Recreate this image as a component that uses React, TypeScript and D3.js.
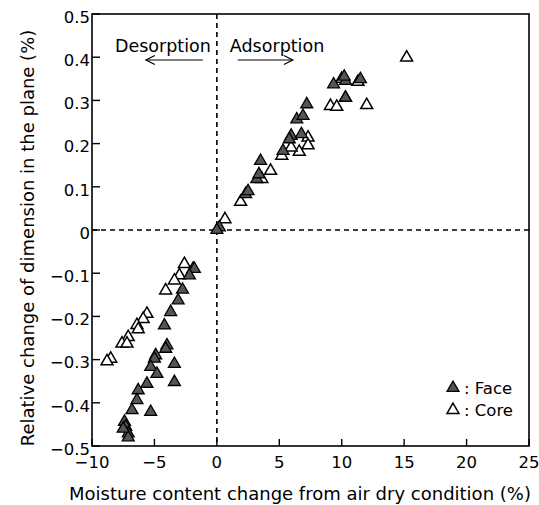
import React from "react";
import * as d3 from "d3";

const faceX = [0.2, 0.0, 2.3, 2.5, 3.2, 3.37, 3.5, 5.3, 5.95, 5.8, 6.77, 6.4, 6.9, 7.2, 9.35, 10.3, 10.2, 11.5, 10.3,
  -1.8, -2.2, -2.75, -3.1, -3.7, -4.2, -4.0, -4.1, -4.9, -5.0, -3.4, -5.3, -4.8, -5.6, -3.4, -6.3, -6.4, -6.8, -5.3, -7.4, -7.3, -7.1, -7.1, -7.5];
const faceY = [0.006, 0.0, 0.083, 0.09, 0.118, 0.129, 0.16, 0.183, 0.218, 0.21, 0.222, 0.256, 0.264, 0.291, 0.337, 0.345, 0.355, 0.349, 0.306,
  -0.09, -0.105, -0.138, -0.163, -0.19, -0.221, -0.267, -0.275, -0.29, -0.298, -0.31, -0.317, -0.333, -0.356, -0.352, -0.371, -0.394, -0.417, -0.421, -0.444, -0.455, -0.471, -0.48, -0.46];

const coreX = [15.2, 11.3, 10.3, 9.1, 9.6, 12.0, 7.3, 7.3, 6.6, 5.95, 5.2, 3.6, 4.3, 1.9, 0.65, 10.0,
  -2.6, -1.9, -3.0, -3.4, -4.1, -5.6, -5.9, -6.4, -6.3, -7.1, -7.6, -7.2, -8.5, -8.8, -7.35];
const coreY = [0.399, 0.343, 0.306, 0.287, 0.285, 0.289, 0.214, 0.196, 0.181, 0.191, 0.172, 0.118, 0.137, 0.065, 0.025, 0.35,
  -0.079, -0.09, -0.105, -0.117, -0.14, -0.194, -0.206, -0.22, -0.23, -0.248, -0.263, -0.263, -0.298, -0.304, -0.455];

const xTicks = [-10, -5, 0, 5, 10, 15, 20, 25];
const yTicks = [0.5, 0.4, 0.3, 0.2, 0.1, 0, -0.1, -0.2, -0.3, -0.4, -0.5];

const W = 539, H = 505;
const L = 92, R = 529, T = 14, B = 446;
const font = "'DejaVu Sans', Verdana, sans-serif";

export default function App() {
  const x = d3.scaleLinear().domain([-10, 25]).range([L, R]);
  const y = d3.scaleLinear().domain([-0.5, 0.5]).range([B, T]);
  const tri = d3.symbol().type(d3.symbolTriangle).size(62);
  const triPath = tri() as string;
  const fmt = (v: number) => (v === 0 ? "0" : v < 0 ? "\u2212" + Math.abs(v) : String(v));
  const face = faceX.map((v, i) => [v, faceY[i]]);
  const core = coreX.map((v, i) => [v, coreY[i]]);
  return (
    <svg width={W} height={H} style={{ position: "absolute", left: 0, top: 0, background: "#fff" }} fontFamily={font}>
      <rect x={0} y={0} width={W} height={H} fill="#fff" />
      {/* dashed zero lines */}
      <line x1={x(0)} x2={x(0)} y1={T} y2={B} stroke="#000" strokeWidth={1.6} strokeDasharray="5,4" />
      <line x1={L} x2={R} y1={y(0)} y2={y(0)} stroke="#000" strokeWidth={1.6} strokeDasharray="5,4" />
      {/* frame */}
      <rect x={L} y={T} width={R - L} height={B - T} fill="none" stroke="#000" strokeWidth={1.6} />
      {/* y ticks */}
      {yTicks.map((t) => (
        <g key={"y" + t}>
          <line x1={L} x2={L + 8} y1={y(t)} y2={y(t)} stroke="#000" strokeWidth={1.4} />
          <text x={L - 2} y={y(t) + 3} dy="0.35em" textAnchor="end" fontSize={16.5}>{fmt(t)}</text>
        </g>
      ))}
      {xTicks.map((t) => (
        <g key={"x" + t}>
          <line x1={x(t)} x2={x(t)} y1={B} y2={B - 7} stroke="#000" strokeWidth={1.4} />
          <text x={x(t)} y={B + 22} textAnchor="middle" fontSize={16.5}>{fmt(t)}</text>
        </g>
      ))}
      <text x={300} y={500} textAnchor="middle" fontSize={18}>Moisture content change from air dry condition (%)</text>
      <text transform={`translate(33.5,238) rotate(-90)`} textAnchor="middle" fontSize={18}>Relative change of dimension in the plane (%)</text>
      {/* annotations */}
      <text x={x(0) - 6} y={52} textAnchor="end" fontSize={17.5}>Desorption</text>
      <text x={x(0) + 13} y={52} textAnchor="start" fontSize={17.5}>Adsorption</text>
      <line x1={x(0) - 14} x2={x(0) - 70} y1={60} y2={60} stroke="#000" strokeWidth={1.2} />
      <path d={`M${x(0) - 62},55.5 L${x(0) - 71},60 L${x(0) - 62},64.5`} fill="none" stroke="#000" strokeWidth={1.2} />
      <line x1={x(0) + 21} x2={x(0) + 75} y1={60} y2={60} stroke="#000" strokeWidth={1.2} />
      <path d={`M${x(0) + 67},55.5 L${x(0) + 76},60 L${x(0) + 67},64.5`} fill="none" stroke="#000" strokeWidth={1.2} />
      {/* points */}
      {core.map((d, i) => (
        <path key={"c" + i} d={triPath} transform={`translate(${x(d[0])},${y(d[1])})`} fill="#fff" stroke="#000" strokeWidth={1.5} />
      ))}
      {face.map((d, i) => (
        <path key={"f" + i} d={triPath} transform={`translate(${x(d[0])},${y(d[1])})`} fill="#555" stroke="#000" strokeWidth={1.3} />
      ))}
      {/* legend */}
      <path d={triPath} transform={`translate(453,388)`} fill="#555" stroke="#000" strokeWidth={1.3} />
      <text x={464} y={394} fontSize={16.5}>: Face</text>
      <path d={triPath} transform={`translate(453,410)`} fill="#fff" stroke="#000" strokeWidth={1.5} />
      <text x={464} y={416} fontSize={16.5}>: Core</text>
    </svg>
  );
}
